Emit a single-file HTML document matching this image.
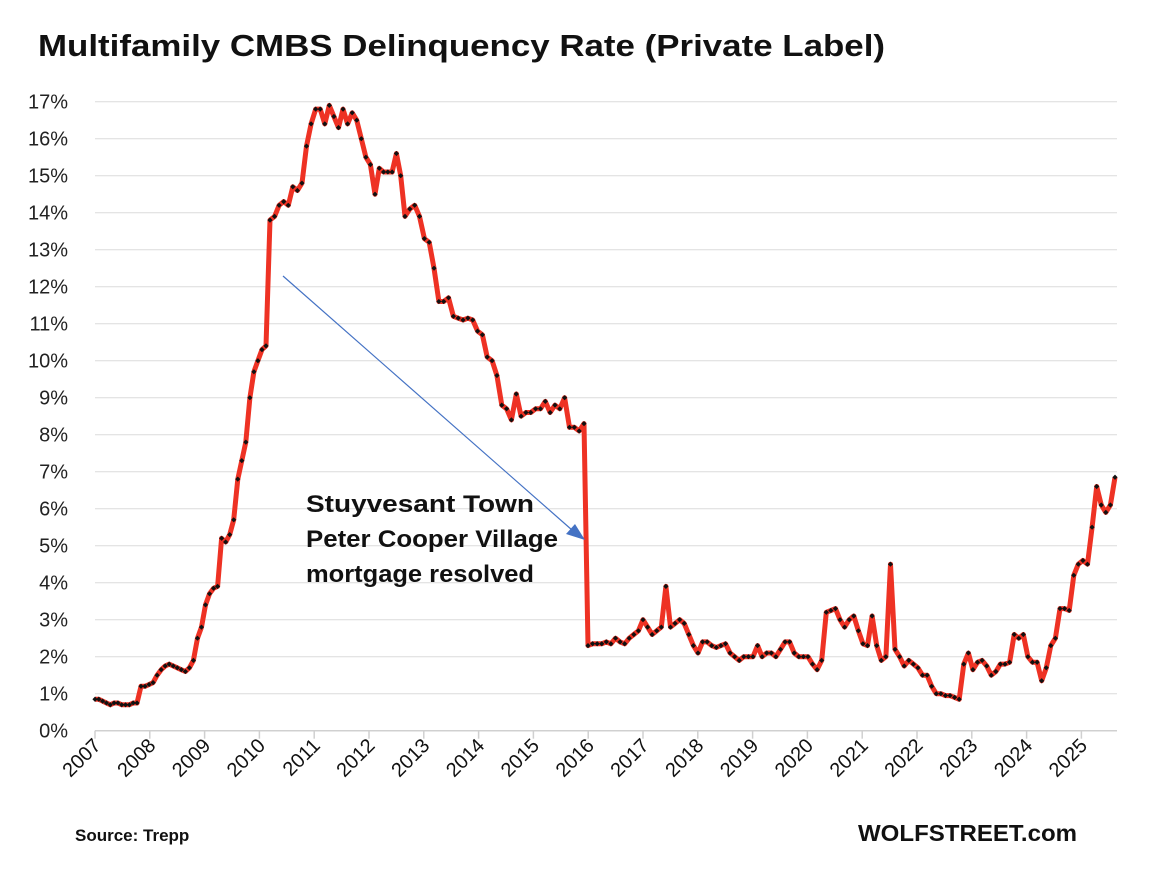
<!DOCTYPE html>
<html><head><meta charset="utf-8"><style>
body{margin:0;background:#fff;}
svg{display:block;font-family:"Liberation Sans",Arial,sans-serif;}
</style></head><body>
<svg id="s" width="1170" height="892" xmlns="http://www.w3.org/2000/svg">
<text x="38" y="56" font-size="31" font-weight="bold" fill="#111" textLength="847" lengthAdjust="spacingAndGlyphs">Multifamily CMBS Delinquency Rate (Private Label)</text>
<g id="grid"></g>
<g id="series"></g>
<line x1="283" y1="276" x2="572" y2="530" stroke="#4472c4" stroke-width="1.2"/>
<polygon points="585,540 566,534 575,524" fill="#4472c4"/>
<text font-size="24" font-weight="bold" fill="#111"><tspan x="306" y="512" textLength="228" lengthAdjust="spacingAndGlyphs">Stuyvesant Town</tspan><tspan x="306" y="547" textLength="252" lengthAdjust="spacingAndGlyphs">Peter Cooper Village</tspan><tspan x="306" y="582" textLength="228" lengthAdjust="spacingAndGlyphs">mortgage resolved</tspan></text>
<text x="75" y="841" font-size="17" font-weight="bold" fill="#111">Source: Trepp</text>
<text x="858" y="841" font-size="23" font-weight="bold" fill="#111" textLength="219" lengthAdjust="spacingAndGlyphs">WOLFSTREET.com</text>
</svg>
<script>
var NS="http://www.w3.org/2000/svg";
function el(t,a,p){var e=document.createElementNS(NS,t);for(var k in a)e.setAttribute(k,a[k]);p.appendChild(e);return e;}
var g=document.getElementById("grid"),se=document.getElementById("series");
var y0=730.7,py=37.0,x0=95,px=54.8;
for(var i=0;i<=17;i++){var y=y0-i*py;
 el("line",{x1:95,x2:1117,y1:y,y2:y,stroke:i==0?"#d0d0d0":"#dcdcdc","stroke-width":i==0?1.5:1},g);
 var t=el("text",{x:68,y:y+7,"font-size":20,fill:"#222","text-anchor":"end"},g);t.textContent=i+"%";}
for(var yr=0;yr<=18;yr++){var x=x0+yr*px;
 el("line",{x1:x,x2:x,y1:y0,y2:y0+8,stroke:"#d0d0d0","stroke-width":1.5},g);
 var t=el("text",{x:0,y:0,"font-size":20,fill:"#111","text-anchor":"end",transform:"translate("+(x+7)+","+(y0+16)+") rotate(-45)"},g);t.textContent=2007+yr;}
var A=[0.85,0.85,0.8,0.75,0.7,0.75,0.75,0.7,0.7,0.7,0.75,0.75,1.2,1.2,1.25,1.3,1.5,1.65,1.75,1.8,1.75,1.7,1.65,1.6,1.7,1.9,2.5,2.8,3.4,3.7,3.85,3.9,5.2,5.1,5.3,5.7,6.8,7.3,7.8,9.0,9.7,10.0,10.3,10.4,13.8,13.9,14.2,14.3,14.2,14.7,14.6,14.8,15.8,16.4,16.8,16.8,16.4,16.9,16.6,16.3,16.8,16.4,16.7,16.5,16.0,15.5,15.3,14.5,15.2,15.1,15.1,15.1,15.6,15.0,13.9,14.1,14.2,13.9,13.3,13.2,12.5,11.6,11.6,11.7,11.2,11.15,11.1,11.15,11.1,10.8,10.7,10.1,10.0,9.6,8.8,8.7,8.4,9.1,8.5,8.6,8.6,8.7,8.7,8.9,8.6,8.8,8.7,9.0,8.2,8.2,8.1,8.3];
var B=[2.3,2.35,2.35,2.35,2.4,2.35,2.5,2.4,2.35,2.5,2.6,2.7,3.0,2.8,2.6,2.7,2.8,3.9,2.8,2.9,3.0,2.9,2.6,2.3,2.1,2.4,2.4,2.3,2.25,2.3,2.35,2.1,2.0,1.9,2.0,2.0,2.0,2.3,2.0,2.1,2.1,2.0,2.2,2.4,2.4,2.1,2.0,2.0,2.0,1.8,1.65,1.9,3.2,3.25,3.3,3.0,2.8,3.0,3.1,2.7,2.35,2.3,3.1,2.3,1.9,2.0,4.5,2.2,2.0,1.75,1.9,1.8,1.7,1.5,1.5,1.2,1.0,1.0,0.95,0.95,0.9,0.85,1.8,2.1,1.65,1.85,1.9,1.75,1.5,1.6,1.8,1.8,1.85,2.6,2.5,2.6,2.0,1.85,1.85,1.35,1.7,2.3,2.5,3.3,3.3,3.25,4.2,4.5,4.6,4.5,5.5,6.6,6.1,5.9,6.1,6.85];
var anc=[[0,95],[11,137],[12,141],[43,266],[44,270],[67,375],[74,405],[A.length-1,584]];
function ax(i){for(var k=0;k<anc.length-1;k++){var a=anc[k],b=anc[k+1];if(i<=b[0])return a[1]+(i-a[0])*(b[1]-a[1])/(b[0]-a[0]);}return 584;}
var pts=[];
A.forEach(function(v,i){pts.push([ax(i),y0-v*py]);});
B.forEach(function(v,i){pts.push([588+i*(1115-588)/(B.length-1),y0-v*py]);});
el("polyline",{points:pts.map(function(p){return p[0].toFixed(1)+","+p[1].toFixed(1)}).join(" "),fill:"none",stroke:"#ee3224","stroke-width":5,"stroke-linejoin":"round"},se);
pts.forEach(function(p){var x=p[0],y=p[1];el("polygon",{points:(x)+","+(y-2.6)+" "+(x+2.6)+","+y+" "+x+","+(y+2.6)+" "+(x-2.6)+","+y,fill:"#111"},se);});
</script>
</body></html>
